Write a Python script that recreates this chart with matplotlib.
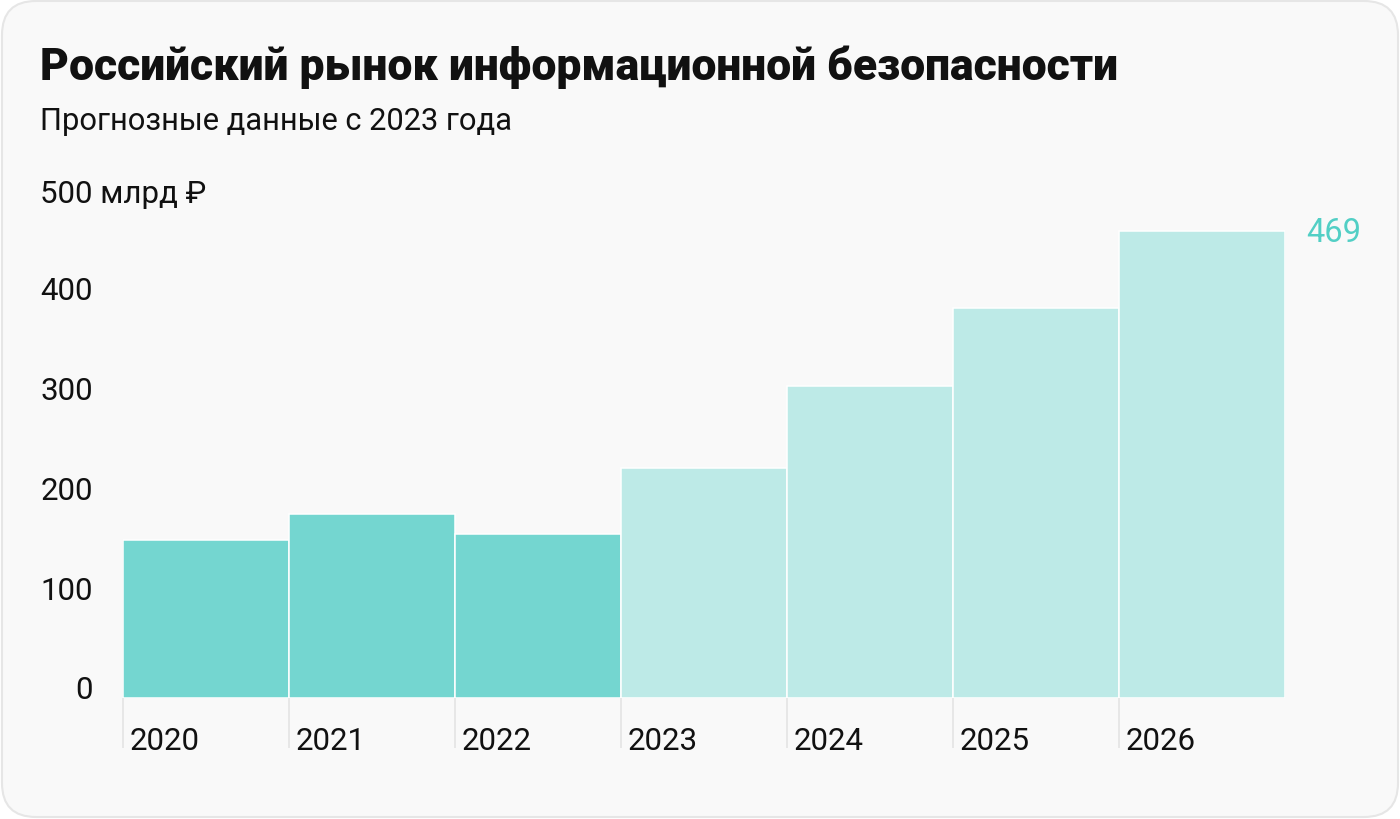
import matplotlib
matplotlib.use("Agg")
import matplotlib.pyplot as plt
from matplotlib.patches import FancyBboxPatch
from matplotlib.transforms import IdentityTransform

years = ["2020", "2021", "2022", "2023", "2024", "2025", "2026"]
values = [159, 185, 165, 231, 313, 391, 469]
is_forecast = [False, False, False, True, True, True, True]
y_ticks = [0, 100, 200, 300, 400]
y_top_label = "500 млрд ₽"
title = "Российский рынок информационной безопасности"
subtitle = "Прогнозные данные с 2023 года"

W, H = 1400, 820
DARK = "#74d6d0"
LIGHT = "#bdeae7"
BG = "#f9f9f9"
plt.rcParams["font.family"] = ["Roboto", "DejaVu Sans"]

fig = plt.figure(figsize=(W / 100, H / 100), dpi=100, facecolor="white")

card = FancyBboxPatch((2, 2), W - 4, H - 4,
                      boxstyle="round,pad=0,rounding_size=34",
                      transform=IdentityTransform(),
                      facecolor=BG, edgecolor="#e6e6e6", linewidth=1.5,
                      zorder=-10)
fig.add_artist(card)

def fx(px):
    return px / W

def fy(py):
    return 1 - py / H

fig.text(fx(40), fy(80), title, fontsize=32, fontweight="black",
         color="#111111", va="baseline", ha="left")
fig.text(fx(40), fy(130), subtitle, fontsize=22.2, color="#111111",
         va="baseline", ha="left")

ax_left, ax_right = 123, 1285
ax_base, ax_top = 699.3, 699.3 - 498.6
ax = fig.add_axes([fx(ax_left), fy(ax_base), (ax_right - ax_left) / W,
                   (ax_base - ax_top) / H])
ax.set_facecolor("none")
ax.set_xlim(0, len(years))
ax.set_ylim(0, 500)
for s in ax.spines.values():
    s.set_visible(False)

xs = list(range(len(years)))
colors = [LIGHT if f else DARK for f in is_forecast]
ax.bar(xs, values, width=1, align="edge", color=colors,
       edgecolor="white", linewidth=1.1)

ax.set_xticks(xs)
ax.set_xticklabels([])
ax.tick_params(axis="x", length=36, width=1.1, color="#e2e2e2", direction="out")
ax.set_yticks([])

FS = 22.5
for x, yr in zip(xs, years):
    ax.annotate(yr, xy=(x, 0), xycoords=("data", "figure pixels"),
                xytext=(7, H - 750), textcoords="offset pixels",
                fontsize=FS, color="#111111", ha="left", va="baseline",
                annotation_clip=False)

for v in y_ticks:
    ax.annotate(str(v), xy=(93, v), xycoords=("figure pixels", "data"),
                fontsize=FS, color="#111111", ha="right", va="baseline",
                annotation_clip=False)
ax.annotate(y_top_label, xy=(40, 500), xycoords=("figure pixels", "data"),
            xytext=(0, -2), textcoords="offset pixels",
            fontsize=FS, color="#111111", ha="left", va="baseline",
            annotation_clip=False)

ax.annotate(str(values[-1]), xy=(len(years), values[-1]), xycoords="data",
            xytext=(21, -10), textcoords="offset pixels",
            fontsize=23.5, color="#52cfc5", ha="left", va="baseline",
            annotation_clip=False)

fig.savefig("out.png", dpi=100, facecolor="white")
